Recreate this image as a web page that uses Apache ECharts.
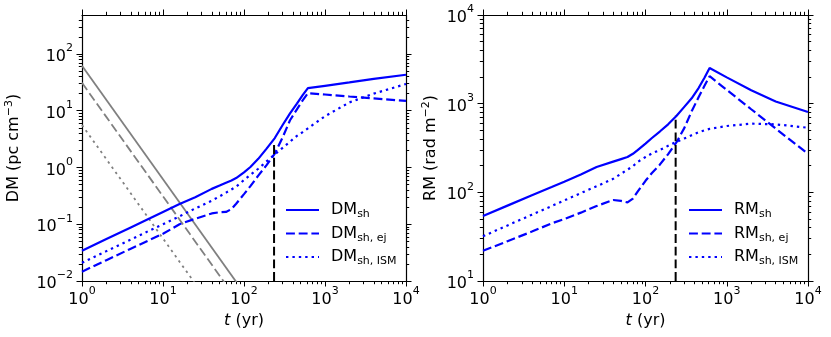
<!DOCTYPE html>
<html>
<head>
<meta charset="utf-8">
<script src="https://cdn.jsdelivr.net/npm/echarts@6/dist/echarts.min.js"></script>
<style>
  html, body { margin: 0; background: #fff; }
  #chart { width: 831px; height: 337px; }
</style>
</head>
<body>
<div id="chart"></div>
<script>
// time samples (yr), shared by the blue curves
const t = [1, 2, 4, 7, 10, 16, 25, 40, 50, 60, 70, 80, 100, 120, 150, 190, 240, 300, 370, 450, 530, 615, 1000, 2000, 4000, 10000];

// DM (pc cm^-3)
const dmSh  = [0.034, 0.0548, 0.088, 0.129, 0.165, 0.228, 0.30, 0.42, 0.48, 0.54, 0.59, 0.65, 0.82, 1.02, 1.42, 2.15, 3.3, 5.6, 9.0, 13.4, 18.8, 25, 27.5, 31.5, 36.5, 43];
const dmEj  = [0.0146, 0.0233, 0.0371, 0.0538, 0.068, 0.10, 0.125, 0.155, 0.163, 0.165, 0.185, 0.23, 0.34, 0.47, 0.72, 1.1, 1.76, 3.4, 6.8, 10.6, 15.2, 20.3, 19.3, 17.8, 16.5, 14.9];
const dmIsm = [0.021, 0.0336, 0.0536, 0.079, 0.100, 0.138, 0.19, 0.26, 0.31, 0.36, 0.41, 0.46, 0.60, 0.74, 0.95, 1.28, 1.70, 2.22, 2.85, 3.6, 4.2, 4.9, 8.0, 14, 20, 29.6];

// grey reference lines (left panel)
const greyT      = [1, 100];
const greySolid  = [62, 0.0062];
const greyDashed = [31, 0.0031];
const greyDotted = [5.6, 0.00056];

// RM (rad m^-2)
const rmSh  = [54, 70.8, 92.9, 115, 132, 159, 193, 222, 237, 250, 272, 300, 355, 410, 485, 585, 725, 920, 1150, 1500, 1950, 2530, 1980, 1420, 1060, 807];
const rmEj  = [21.9, 28.1, 36.1, 44.7, 50, 59, 70, 82, 80, 77, 85, 102, 135, 165, 205, 270, 365, 530, 820, 1180, 1580, 2040, 1430, 865, 524, 272];
const rmIsm = [32, 42.3, 56, 70, 81, 98, 117, 142, 162, 180, 197, 220, 250, 275, 300, 335, 371, 405, 440, 475, 500, 520, 560, 595, 585, 535];

// vertical marker
const critT  = [235, 235];
const critDM = [0.01, 2.9];
const critRM = [10, 730];

// axis ranges
const tRange  = [1, 10000];
const dmRange = [0.01, 486];
const rmRange = [10, 10000];

const FONT = 'DejaVu Sans';
const BLUE = '#0000ff';
const GREY = '#808080';

const chart = echarts.init(document.getElementById('chart'), null, { renderer: 'canvas' });

const pair = (xs, ys) => xs.map((x, i) => [x, ys[i]]);
const log10 = Math.log10;

function majorExps(lo, hi) {
  const out = [];
  for (let k = Math.ceil(lo - 1e-9); k <= Math.floor(hi + 1e-9); k++) out.push(k);
  return out;
}
function minorExps(lo, hi) {
  const out = [];
  for (let k = Math.floor(lo); k <= Math.ceil(hi); k++) {
    for (let m = 2; m <= 9; m++) {
      const v = k + log10(m);
      if (v > lo && v < hi) out.push(v);
    }
  }
  return out;
}

const supRich = {
  b: { fontSize: 16, lineHeight: 22, fontFamily: FONT, color: '#000', verticalAlign: 'bottom' },
  sup: { fontSize: 11, lineHeight: 11, fontFamily: FONT, color: '#000', verticalAlign: 'top' }
};
const nameRich = {
  b: { fontSize: 16, lineHeight: 20, fontFamily: FONT, color: '#000' },
  it: { fontSize: 16, lineHeight: 20, fontFamily: FONT, color: '#000', fontStyle: 'italic' },
  sup: { fontSize: 11, lineHeight: 11, fontFamily: FONT, color: '#000', verticalAlign: 'top' }
};
const expLabel = (v) => '{b|10}{sup|' + (v < 0 ? '\u2212' + (-v) : v) + '}';

// decorative log-tick axes, in exponent space
function decoAxis(gridIndex, pos, lo, hi, major, opts) {
  const vals = major ? majorExps(lo, hi) : minorExps(lo, hi);
  const ax = {
    type: 'value', gridIndex, position: pos,
    min: lo, max: hi,
    splitLine: { show: false },
    axisLine: { show: major, onZero: false, lineStyle: { color: '#000', width: 1.2 } },
    axisTick: { show: true, customValues: vals, length: major ? 5.5 : 3.2, lineStyle: { color: '#000', width: 1 } },
    axisLabel: { show: false },
    silent: true
  };
  if (opts && opts.labels) {
    ax.axisLabel = {
      show: true, customValues: vals, margin: opts.margin,
      formatter: expLabel, rich: supRich
    };
  }
  if (opts && opts.name) {
    ax.name = opts.name;
    ax.nameLocation = 'middle';
    ax.nameGap = opts.nameGap;
    ax.nameTextStyle = { rich: nameRich, fontSize: 16, fontFamily: FONT, color: '#000' };
  }
  return ax;
}

const tExp  = [log10(tRange[0]), log10(tRange[1])];
const dmExp = [log10(dmRange[0]), log10(dmRange[1])];
const rmExp = [log10(rmRange[0]), log10(rmRange[1])];

const xAxes = [
  { type: 'log', logBase: 10, gridIndex: 0, min: tRange[0], max: tRange[1], show: false },
  { type: 'log', logBase: 10, gridIndex: 1, min: tRange[0], max: tRange[1], show: false }
];
const yAxes = [
  { type: 'log', logBase: 10, gridIndex: 0, min: dmRange[0], max: dmRange[1], show: false },
  { type: 'log', logBase: 10, gridIndex: 1, min: rmRange[0], max: rmRange[1], show: false }
];
[0, 1].forEach((g) => {
  xAxes.push(decoAxis(g, 'bottom', tExp[0], tExp[1], true, { labels: true, margin: 5, name: '{it|t}{b| (yr)}', nameGap: 29 }));
  xAxes.push(decoAxis(g, 'bottom', tExp[0], tExp[1], false));
  xAxes.push(decoAxis(g, 'top', tExp[0], tExp[1], true));
  xAxes.push(decoAxis(g, 'top', tExp[0], tExp[1], false));
  const e = g === 0 ? dmExp : rmExp;
  const nm = g === 0 ? '{b|DM (pc cm}{sup|\u22123}{b|)}' : '{b|RM (rad m}{sup|\u22122}{b|)}';
  yAxes.push(decoAxis(g, 'left', e[0], e[1], true, { labels: true, margin: 9, name: nm, nameGap: g === 0 ? 58 : 42 }));
  yAxes.push(decoAxis(g, 'left', e[0], e[1], false));
  yAxes.push(decoAxis(g, 'right', e[0], e[1], true));
  yAxes.push(decoAxis(g, 'right', e[0], e[1], false));
});

function curve(name, g, data, color, type, width) {
  const dash = type === 'dashed' ? [8.9, 3.8] : type === 'dotted' ? [2.4, 4] : 'solid';
  return {
    name, type: 'line', xAxisIndex: g, yAxisIndex: g,
    data, showSymbol: false, symbol: 'none', clip: true, silent: true,
    lineStyle: { color, width, type: dash, cap: 'butt' },
    itemStyle: { color },
    animation: false
  };
}

const legendNames = {
  'DM_sh': 'DM{sub|sh}', 'DM_sh,ej': 'DM{sub|sh, ej}', 'DM_sh,ISM': 'DM{sub|sh, ISM}',
  'RM_sh': 'RM{sub|sh}', 'RM_sh,ej': 'RM{sub|sh, ej}', 'RM_sh,ISM': 'RM{sub|sh, ISM}'
};
const legendRich = {
  gap: { width: 7 },
  sub: { fontSize: 11, lineHeight: 11, fontFamily: FONT, color: '#000', verticalAlign: 'bottom' }
};
function legend(names, left) {
  return {
    data: names, orient: 'vertical', left, top: 200, padding: 0,
    itemWidth: 33, itemHeight: 20, itemGap: 3.5, selectedMode: false,
    itemStyle: { opacity: 0 },
    formatter: (n) => '{gap| }' + legendNames[n],
    textStyle: { fontSize: 16, lineHeight: 20, fontFamily: FONT, color: '#000', rich: legendRich }
  };
}

chart.setOption({
  animation: false,
  backgroundColor: '#fff',
  grid: [
    { left: 82, right: 425, top: 15, bottom: 56, outerBoundsMode: 'none' },
    { left: 483, right: 23, top: 15, bottom: 56, outerBoundsMode: 'none' }
  ],
  xAxis: xAxes,
  yAxis: yAxes,
  legend: [
    legend(['DM_sh', 'DM_sh,ej', 'DM_sh,ISM'], 285),
    legend(['RM_sh', 'RM_sh,ej', 'RM_sh,ISM'], 688)
  ],
  series: [
    curve('greySolid', 0, pair(greyT, greySolid), GREY, 'solid', 1.8),
    curve('greyDashed', 0, pair(greyT, greyDashed), GREY, 'dashed', 1.8),
    curve('greyDotted', 0, pair(greyT, greyDotted), GREY, 'dotted', 1.8),
    curve('DM_sh', 0, pair(t, dmSh), BLUE, 'solid', 2.2),
    curve('DM_sh,ej', 0, pair(t, dmEj), BLUE, 'dashed', 2.2),
    curve('DM_sh,ISM', 0, pair(t, dmIsm), BLUE, 'dotted', 2.2),
    curve('critDM', 0, pair(critT, critDM), '#000', 'dashed', 2),
    curve('RM_sh', 1, pair(t, rmSh), BLUE, 'solid', 2.2),
    curve('RM_sh,ej', 1, pair(t, rmEj), BLUE, 'dashed', 2.2),
    curve('RM_sh,ISM', 1, pair(t, rmIsm), BLUE, 'dotted', 2.2),
    curve('critRM', 1, pair(critT, critRM), '#000', 'dashed', 2)
  ]
});
</script>
</body>
</html>
